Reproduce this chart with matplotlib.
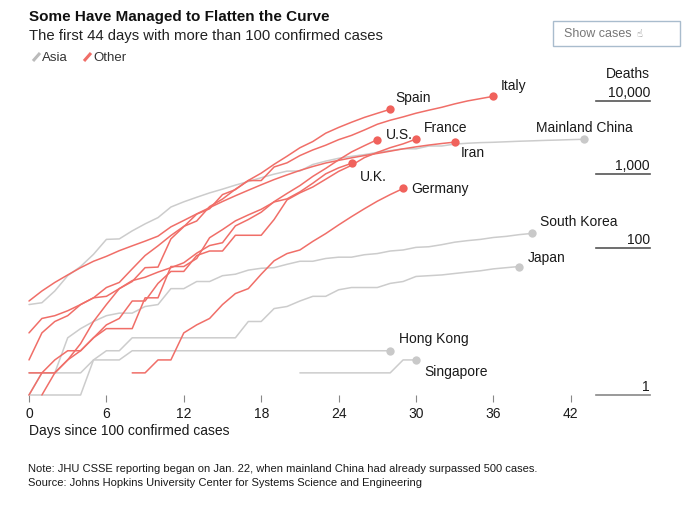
import matplotlib
matplotlib.use("Agg")
import matplotlib.pyplot as plt
from matplotlib.lines import Line2D
from matplotlib.patches import Rectangle

plt.rcParams['font.family'] = ['Liberation Sans', 'DejaVu Sans']

# cumulative deaths, one value per day since 100 confirmed cases
countries = ["Mainland China", "South Korea", "Japan", "Hong Kong", "Singapore",
             "Italy", "Spain", "Iran", "France", "U.S.", "U.K.", "Germany"]
region = ["Asia", "Asia", "Asia", "Asia", "Asia",
          "Other", "Other", "Other", "Other", "Other", "Other", "Other"]
first_day = [0, 0, 0, 0, 21, 0, 1, 0, 0, 0, 0, 8]

china = [17, 18, 26, 42, 56, 82, 131, 133, 171, 213, 259, 361, 425, 490, 562, 632,
         717, 804, 904, 1011, 1111, 1116, 1368, 1520, 1662, 1765, 1863, 2002, 2114,
         2236, 2236, 2441, 2443, 2593, 2663, 2715, 2744, 2788, 2835, 2870, 2912,
         2943, 2981, 3013]
south_korea = [1, 2, 2, 6, 8, 10, 12, 13, 13, 16, 17, 28, 28, 35, 35, 42, 44, 50, 53,
               54, 60, 66, 66, 72, 75, 75, 81, 84, 91, 94, 102, 104, 111, 120, 126,
               131, 139, 144, 152, 158]
japan = [1, 1, 1, 1, 1, 3, 4, 4, 6, 6, 6, 6, 6, 6, 6, 6, 6, 10, 10, 15, 16, 19, 22,
         22, 27, 29, 29, 29, 33, 35, 41, 42, 43, 45, 47, 49, 52, 54, 56]
hong_kong = [2, 2, 2, 2, 2, 3, 3, 3, 4, 4, 4, 4, 4, 4, 4, 4, 4, 4, 4, 4, 4, 4, 4, 4,
             4, 4, 4, 4, 4]
singapore = [2, 2, 2, 2, 2, 2, 2, 2, 3, 3]
italy = [3, 7, 10, 12, 17, 21, 29, 34, 52, 79, 107, 148, 197, 233, 366, 463, 631, 827,
         827, 1266, 1441, 1809, 2158, 2503, 2978, 3405, 4032, 4825, 5476, 6077, 6820,
         7503, 8215, 9134, 10023, 10779, 11591]
spain = [1, 2, 3, 5, 10, 17, 28, 35, 54, 55, 133, 195, 289, 342, 533, 623, 830, 1043,
         1375, 1772, 2311, 2808, 3647, 4365, 5138, 5982, 6803, 7716]
iran = [19, 26, 34, 43, 54, 66, 77, 92, 107, 124, 145, 194, 237, 291, 354, 429, 514,
        611, 724, 853, 988, 1135, 1284, 1433, 1556, 1685, 1812, 1934, 2077, 2234,
        2378, 2517, 2640, 2757]
france = [2, 2, 3, 4, 4, 6, 9, 11, 19, 19, 33, 48, 48, 79, 91, 91, 149, 149, 149, 244,
          451, 563, 676, 862, 1102, 1333, 1698, 1997, 2317, 2611, 3030]
us = [7, 11, 12, 14, 17, 21, 22, 28, 36, 40, 47, 54, 63, 85, 108, 118, 200, 244, 307,
      427, 552, 706, 942, 1209, 1581, 2026, 2467, 2978]
uk = [1, 2, 2, 3, 4, 6, 8, 8, 8, 21, 21, 56, 56, 72, 138, 178, 234, 282, 336, 423, 466,
      580, 761, 1021, 1231, 1419]
germany = [2, 2, 3, 3, 7, 9, 11, 17, 24, 28, 44, 67, 84, 94, 123, 157, 206, 267, 342,
           433, 533, 645]

series = [china, south_korea, japan, hong_kong, singapore,
          italy, spain, iran, france, us, uk, germany]

x_ticks = [0, 6, 12, 18, 24, 30, 36, 42]
y_levels = [1, 100, 1000, 10000]
y_labels = ["1", "100", "1,000", "10,000"]

# label offsets (points) from each end dot
label_offset = {
    "Mainland China": (-34, 9), "South Korea": (6, 9), "Japan": (6, 7),
    "Hong Kong": (6, 9), "Singapore": (6, -8), "Italy": (5, 8), "Spain": (4, 9),
    "Iran": (4, -7), "France": (6, 9), "U.S.": (6, 4), "U.K.": (6, -9), "Germany": (6, 0),
}

colors = {"Asia": "#cccccc", "Other": "#f06e68"}
dot_colors = {"Asia": "#c9c9c9", "Other": "#f0625c"}

fig = plt.figure(figsize=(7, 5.06), dpi=100)
ax = fig.add_axes([29 / 700, 1 - 396 / 506, 621 / 700, 326 / 506])
ax.set_yscale("log")
ymax = 10 ** (326 / 73.5)
ax.set_ylim(1, ymax)
ax.set_xlim(0, 621 / 12.9)

for reg in ["Asia", "Other"]:
    for name, r, d0, vals in zip(countries, region, first_day, series):
        if r != reg:
            continue
        days = list(range(d0, d0 + len(vals)))
        ax.plot(days, vals, color=colors[r], lw=1.1, solid_joinstyle="round",
                solid_capstyle="round", clip_on=False, zorder=2 if r == "Asia" else 3)
        ax.plot(days[-1], vals[-1], "o", color=dot_colors[r], ms=6, mec="none",
                clip_on=False, zorder=4)
        dx, dy = label_offset[name]
        ax.annotate(name, (days[-1], vals[-1]), xytext=(dx, dy),
                    textcoords="offset points", ha="left", va="center",
                    fontsize=10, color="#1a1a1a", zorder=5)

# right-hand deaths scale
x_end = 621 / 12.9
x_rule = (596 - 29) / 12.9
for v, lab in zip(y_levels, y_labels):
    ax.plot([x_rule, x_end], [v, v], color="#555555" if v > 1 else "#888888",
            lw=1.2, clip_on=False, zorder=1)
    ax.annotate(lab, (x_end, v), xytext=(0, 1.5), textcoords="offset points",
                ha="right", va="bottom", fontsize=10, color="#1a1a1a")
ax.annotate("Deaths", (x_end, 10000), xytext=(0, 15), textcoords="offset points",
            ha="right", va="bottom", fontsize=10, color="#1a1a1a")

ax.set_xticks(x_ticks)
ax.set_xticklabels([str(t) for t in x_ticks])
ax.set_yticks([])
ax.minorticks_off()
ax.tick_params(axis="x", length=5, width=0.8, color="#888888", pad=3,
               labelsize=10, labelcolor="#1a1a1a")
ax.tick_params(axis="y", which="both", left=False, labelleft=False)
for s in ax.spines.values():
    s.set_visible(False)
ax.set_xlabel("Days since 100 confirmed cases", fontsize=10, color="#1a1a1a",
              loc="left", labelpad=4)
ax.xaxis.set_label_coords(0, -0.085)
ax.xaxis.label.set_horizontalalignment("left")

# header
fig.text(29 / 700, 1 - 17 / 506, "Some Have Managed to Flatten the Curve",
         fontsize=11, fontweight="bold", va="center", ha="left", color="#111111")
fig.text(29 / 700, 1 - 36 / 506, "The first 44 days with more than 100 confirmed cases",
         fontsize=10.7, va="center", ha="left", color="#222222")

# legend
for x0, reg, lab in [(33, "Asia", "Asia"), (84, "Other", "Other")]:
    fig.add_artist(Line2D([x0 / 700, (x0 + 7) / 700], [1 - 62 / 506, 1 - 54 / 506],
                          transform=fig.transFigure,
                          color=colors[reg] if reg == "Other" else "#bbbbbb",
                          lw=2.2, solid_capstyle="butt"))
    fig.text((x0 + 9) / 700, 1 - 58 / 506, lab, fontsize=9.5, va="center", ha="left",
             color="#333333")

# button
fig.add_artist(Rectangle((553 / 700, 1 - 47 / 506), 127 / 700, 25 / 506,
                         transform=fig.transFigure, fill=False, ec="#a9bccd", lw=1))
fig.text(564 / 700, 1 - 34 / 506, "Show cases", fontsize=9, va="center", ha="left",
         color="#777777")
fig.text(636 / 700, 1 - 34 / 506, "\u261d", fontsize=7, va="center", ha="left",
         color="#777777", family=["DejaVu Sans"])

# footnotes
fig.text(28 / 700, 1 - 469 / 506,
         "Note: JHU CSSE reporting began on Jan. 22, when mainland China had already surpassed 500 cases.",
         fontsize=8.05, va="center", ha="left", color="#1a1a1a")
fig.text(28 / 700, 1 - 483 / 506,
         "Source: Johns Hopkins University Center for Systems Science and Engineering",
         fontsize=8.05, va="center", ha="left", color="#1a1a1a")

fig.savefig("out.png", dpi=100, facecolor="white")
